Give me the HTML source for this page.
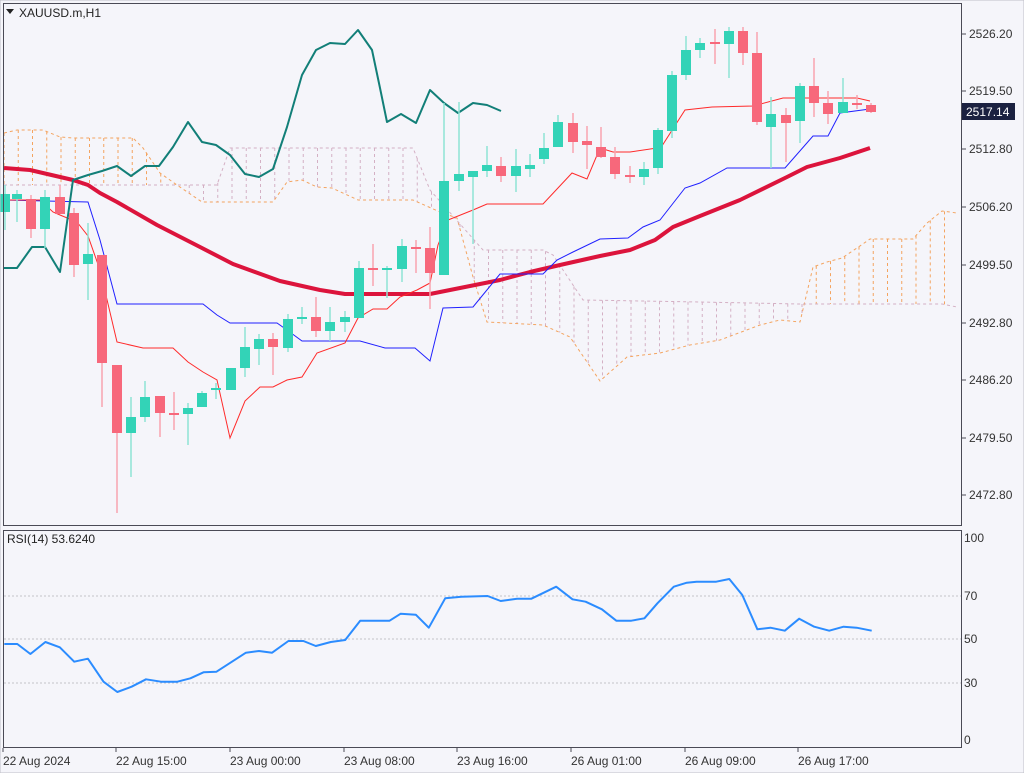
<!DOCTYPE html>
<html><head><meta charset="utf-8"><style>
html,body{margin:0;padding:0;background:#f5f5fa;}
svg{display:block;font-family:"Liberation Sans",sans-serif;}
</style></head><body>
<svg id="c" width="1024" height="773" viewBox="0 0 1024 773" xmlns="http://www.w3.org/2000/svg">
<rect width="1024" height="773" fill="#f5f5fa"/>
</svg>
<script>
const S=document.getElementById('c');const NS='http://www.w3.org/2000/svg';
function el(t,a,txt){const e=document.createElementNS(NS,t);for(const k in a)e.setAttribute(k,a[k]);if(txt!==undefined)e.textContent=txt;S.appendChild(e);return e;}
function pl(pts,a){a.points=pts.map(p=>p.join(',')).join(' ');a.fill='none';return el('polyline',a);}
function interp(pts,x){if(x<=pts[0][0])return pts[0][1];for(let i=1;i<pts.length;i++){if(x<=pts[i][0]){const a=pts[i-1],b=pts[i];return a[1]+(b[1]-a[1])*(x-a[0])/(b[0]-a[0]);}}return pts[pts.length-1][1];}
// Cloud
const A=[[4,133],[17,130],[43,130],[60,137],[73,138],[133,138],[143,148],[160,173],[177,185],[202,202],[273,202],[287,182],[302,180],[317,187],[332,188],[358,200],[413,200],[440,212],[457,218],[473,277],[487,322],[543,325],[570,337],[600,381],[627,357],[660,353],[690,345],[720,340],[760,325],[780,320],[800,322],[813,267],[827,262],[842,258],[857,248],[870,239],[913,239],[927,223],[942,211],[957,213]];
const B=[[4,185],[217,185],[230,148],[413,148],[430,190],[483,250],[543,250],[553,255],[583,300],[700,302],[800,304],[942,304],[957,307]];
for(let i=0;i<68;i++){const x=4+14.25*i;if(x>957)break;const a=interp(A,x),b=interp(B,x);
 el('line',{x1:x,x2:x,y1:Math.min(a,b),y2:Math.max(a,b),stroke:a<b?'#f4a460':'#d4b0c4','stroke-width':1,'stroke-dasharray':'3,3'});}
pl(A,{stroke:'#f4a460','stroke-width':1,'stroke-dasharray':'3,3'});
pl(B,{stroke:'#d4b0c4','stroke-width':1,'stroke-dasharray':'3,3'});
// MA
pl([[4,168],[30,170],[73,180],[88,185],[100,193],[117,202],[157,225],[200,247],[233,264],[280,281],[320,290],[345,294],[430,294],[470,286],[500,280],[530,272],[560,265],[600,256],[630,250],[655,240],[673,227],[700,216],[740,200],[787,177],[807,167],[840,158],[870,148]],{stroke:'#dc143c','stroke-width':4,'stroke-linejoin':'round'});
// Kijun
pl([[4,200],[88,202],[100,240],[117,304],[203,304],[217,315],[230,323],[277,323],[287,330],[302,341],[360,341],[385,348],[415,348],[430,361],[443,308],[473,307],[500,274],[543,274],[557,260],[573,252],[600,239],[628,238],[643,227],[660,220],[685,188],[700,183],[727,168],[785,168],[813,136],[828,136],[840,113],[870,109]],{stroke:'#2020ff','stroke-width':1});
// Tenkan
pl([[4,200],[40,200],[53,212],[60,215],[77,222],[88,236],[100,270],[117,342],[143,348],[173,348],[188,362],[203,372],[217,380],[230,438],[245,401],[260,387],[273,387],[287,380],[302,377],[317,353],[345,343],[358,318],[373,309],[387,309],[400,297],[417,290],[430,283],[438,245],[448,220],[473,210],[487,204],[543,204],[572,173],[587,179],[600,148],[613,152],[630,152],[657,148],[660,149],[685,110],[712,107],[753,106],[783,98],[857,98],[870,101]],{stroke:'#ff2a2a','stroke-width':1});
// Chikou
pl([[4,268],[17,268],[32,247],[45,247],[60,272],[73,180],[88,175],[102,171],[117,166],[131,176],[145,166],[159,166],[173,147],[188,122],[202,142],[216,145],[230,155],[245,174],[259,177],[273,169],[287,127],[302,75],[316,50],[330,43],[345,44],[358,30],[372,50],[380,88],[387,122],[401,114],[416,123],[430,90],[444,103],[458,113],[473,103],[487,105],[501,111]],{stroke:'#127f78','stroke-width':2,'stroke-linejoin':'round'});
// Candles [x-index, open, close, high, low] in pixel y
const C=[[5,212,194,185,230],[17,199,194,190,222],[31,199,229,195,238],[45,229,197,190,248],[60,197,214,185,214],[74,213,265,208,277],[88,264,254,223,300],[102,255,363,255,407],[117,365,433,365,513],[131,433,417,397,477],[145,417,397,381,422],[160,396,413,396,437],[174,413,414,392,430],[188,414,408,403,445],[202,407,393,391,407],[216,390,388,383,399],[231,390,368,368,390],[245,368,347,327,377],[259,349,339,334,365],[273,339,347,333,375],[288,348,319,314,352],[302,319,317,307,324],[316,317,331,297,337],[330,331,322,307,341],[345,322,317,311,332],[359,318,268,261,318],[373,268,270,244,286],[387,270,268,266,298],[402,269,246,239,282],[416,247,249,240,273],[430,248,273,227,309],[444,275,181,103,275],[459,181,174,102,191],[473,177,171,171,244],[487,171,165,146,177],[501,166,176,157,182],[516,176,166,149,192],[530,169,165,154,177],[544,159,148,133,164],[558,147,122,115,147],[573,123,142,113,153],[587,141,145,126,169],[601,147,157,127,158],[615,157,174,147,179],[630,175,177,166,183],[644,177,169,162,185],[658,168,130,128,174],[672,131,75,71,138],[686,75,50,36,80],[700,50,43,38,58],[715,42,44,29,64],[729,44,31,27,78],[743,31,53,27,65],[757,53,122,32,125],[771,127,114,97,168],[786,115,123,108,162],[800,121,86,83,143],[814,86,103,58,117],[828,103,114,91,124],[843,113,102,78,113],[857,103,105,95,109],[871,105,112,103,113]];
for(const [x,o,c,h,l] of C){const up=c<o;const col=up?'#33d3b7':'#f7687b';const wc=up?'#8fe3d4':'#f8a4b0';
 el('line',{x1:x,x2:x,y1:h,y2:l,stroke:wc,'stroke-width':1.5});
 const t=Math.min(o,c),b=Math.max(o,c);el('rect',{x:x-5,y:t,width:10,height:Math.max(b-t,2),fill:col});}
// Frames
el('rect',{x:3.5,y:3.5,width:958,height:522,fill:'none',stroke:'#4a4a55','stroke-width':1});
el('rect',{x:3.5,y:530.5,width:958,height:217,fill:'none',stroke:'#4a4a55','stroke-width':1});
el('rect',{x:0,y:0,width:1024,height:773,fill:'none',stroke:'#c0c0c8','stroke-width':1});
// Title
el('polygon',{points:'6,9 14,9 10,14',fill:'#222'});
el('text',{x:19,y:17,'font-size':'12',fill:'#222'},'XAUUSD.m,H1');
// Price axis
const P=[['2526.20',34],['2519.50',91],['2512.80',149],['2506.20',207],['2499.50',265],['2492.80',323],['2486.20',380],['2479.50',438],['2472.80',495]];
for(const [t,y] of P){el('line',{x1:962,x2:966,y1:y,y2:y,stroke:'#4a4a55'});el('text',{x:969,y:y+4,'font-size':'12',fill:'#333'},t);}
el('rect',{x:962,y:103,width:53,height:17,fill:'#1b2140'});
el('text',{x:966,y:116,'font-size':'12',fill:'#fff'},'2517.14');
// RSI
for(const y of [596,639,683])el('line',{x1:4,x2:961,y1:y,y2:y,stroke:'#c4c4c8','stroke-dasharray':'2,2'});
for(const [t,y] of [['100',538],['70',596],['50',639],['30',683],['0',740]])el('text',{x:964,y:y+4,'font-size':'12',fill:'#333'},t);
el('text',{x:7,y:543,'font-size':'12',fill:'#222'},'RSI(14) 53.6240');
const R=[[5,372],[25,372],[45,402],[68,366],[90,382],[112,425],[133,416],[157,485],[178,516],[200,500],[222,478],[245,485],[270,485],[290,475],[310,457],[330,455],[375,398],[395,393],[415,398],[440,363],[463,363],[482,378],[505,366],[527,360],[550,302],[595,302],[612,281],[635,284],[655,323],[680,235],[705,230],[745,228],[765,243],[790,236],[812,236],[850,200],[875,238],[895,245],[920,268],[942,302],[965,302],[985,295],[1005,250],[1030,200],[1050,188],[1065,185],[1095,185],[1115,177],[1135,225],[1158,328],[1178,323],[1200,332],[1222,296],[1245,320],[1268,332],[1290,320],[1310,323],[1333,332]].map(p=>[+(p[0]/1.531+1).toFixed(1),+(520+p[1]/3).toFixed(1)]);
pl(R,{stroke:'#2b8cff','stroke-width':2,'stroke-linejoin':'round'});
// Time axis
const T=[['22 Aug 2024',3],['22 Aug 15:00',116],['23 Aug 00:00',230],['23 Aug 08:00',344],['23 Aug 16:00',457],['26 Aug 01:00',571],['26 Aug 09:00',685],['26 Aug 17:00',798]];
for(const [t,x] of T){el('line',{x1:x,x2:x,y1:748,y2:752,stroke:'#4a4a55'});el('text',{x:x+(x===3?0:0),y:765,'font-size':'12',fill:'#333'},t);}
</script>
</body></html>
